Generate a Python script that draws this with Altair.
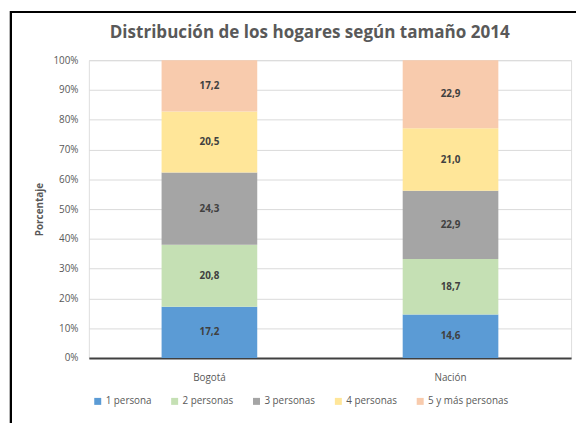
import altair as alt
import pandas as pd

lugares = ["Bogotá", "Nación"]
tamanos = ["1 persona", "2 personas", "3 personas", "4 personas", "5 y más personas"]
bogota = [17.2, 20.8, 24.3, 20.5, 17.2]
nacion = [14.6, 18.7, 22.9, 21.0, 22.9]
colores = ["#5b9bd5", "#c5e0b4", "#a5a5a5", "#ffe699", "#f8cbad"]
titulo = "Distribución de los hogares según tamaño 2014"
ticks_y = [0, 0.1, 0.2, 0.3, 0.4, 0.5, 0.6, 0.7, 0.8, 0.9, 1.0]

rows = []
for lugar, vals in zip(lugares, [bogota, nacion]):
    for i, (t, v) in enumerate(zip(tamanos, vals)):
        rows.append({"lugar": lugar, "tamano": t, "orden": i, "valor": v,
                     "etiqueta": f"{v:.1f}".replace(".", ",")})
df = pd.DataFrame(rows)

FONT = "Open Sans"
GRAY = "#595959"

x_axis = alt.Axis(labelAngle=0, labelFont=FONT, labelFontSize=10, labelColor=GRAY,
                  labelPadding=15, ticks=False, domainColor="#404040", domainWidth=2)
y_axis = alt.Axis(format=".0%", values=ticks_y, title="Porcentaje",
                  titleFont=FONT, titleFontSize=10, titleFontWeight="bold", titleColor=GRAY,
                  titlePadding=9, labelFont=FONT, labelFontSize=10, labelColor=GRAY,
                  labelPadding=11, ticks=False, domain=False, labelOverlap=False,
                  gridColor="#d9d9d9", gridWidth=1)
y_scale = alt.Scale(domain=[0, 1])

base = alt.Chart(df).transform_stack(
    stack="valor", groupby=["lugar"], sort=[alt.SortField("orden", order="ascending")],
    as_=["y0", "y1"], offset="normalize"
).transform_calculate(mid="(datum.y0 + datum.y1) / 2")

bars = base.mark_bar(size=97).encode(
    x=alt.X("lugar:N", sort=lugares, title=None, axis=x_axis),
    y=alt.Y("y0:Q", scale=y_scale, axis=y_axis),
    y2="y1:Q",
    color=alt.Color("tamano:N", sort=tamanos,
                    scale=alt.Scale(domain=tamanos, range=colores),
                    legend=alt.Legend(title=None, orient="none", direction="horizontal",
                                      legendX=4, legendY=341, symbolType="square",
                                      symbolSize=50, symbolStrokeWidth=0, labelFont=FONT,
                                      labelFontSize=10, labelColor=GRAY, columnPadding=18,
                                      labelOffset=3)),
    order=alt.Order("orden:Q"),
)

labels = base.mark_text(font=FONT, fontSize=10, fontWeight="bold", color="#404040").encode(
    x=alt.X("lugar:N", sort=lugares, title=None, axis=x_axis),
    y=alt.Y("mid:Q", scale=y_scale, axis=y_axis),
    text="etiqueta:N",
)

title_df = pd.DataFrame({"t": [titulo]})
title_mark = alt.Chart(title_df).mark_text(
    font=FONT, fontSize=17.3, fontWeight="bold", color=GRAY, baseline="alphabetic", align="center"
).encode(x=alt.value(224), y=alt.value(-23), text="t:N")

border_left = alt.Chart(df).mark_rule(color="black", strokeWidth=2).encode(
    x=alt.value(-79), y=alt.value(-49), y2=alt.value(370))
border_top = alt.Chart(df).mark_rule(color="black", strokeWidth=2).encode(
    x=alt.value(-80), x2=alt.value(500), y=alt.value(-49))

chart = alt.layer(bars, labels, title_mark, border_left, border_top).properties(
    width=489, height=302,
    autosize=alt.AutoSizeParams(type="none"),
    padding={"left": 82, "top": 50, "right": 5, "bottom": 63},
).configure_view(stroke="#404040", strokeWidth=1).configure(background="white")

chart.save("out.html", embed_options={"renderer": "svg", "actions": False})
